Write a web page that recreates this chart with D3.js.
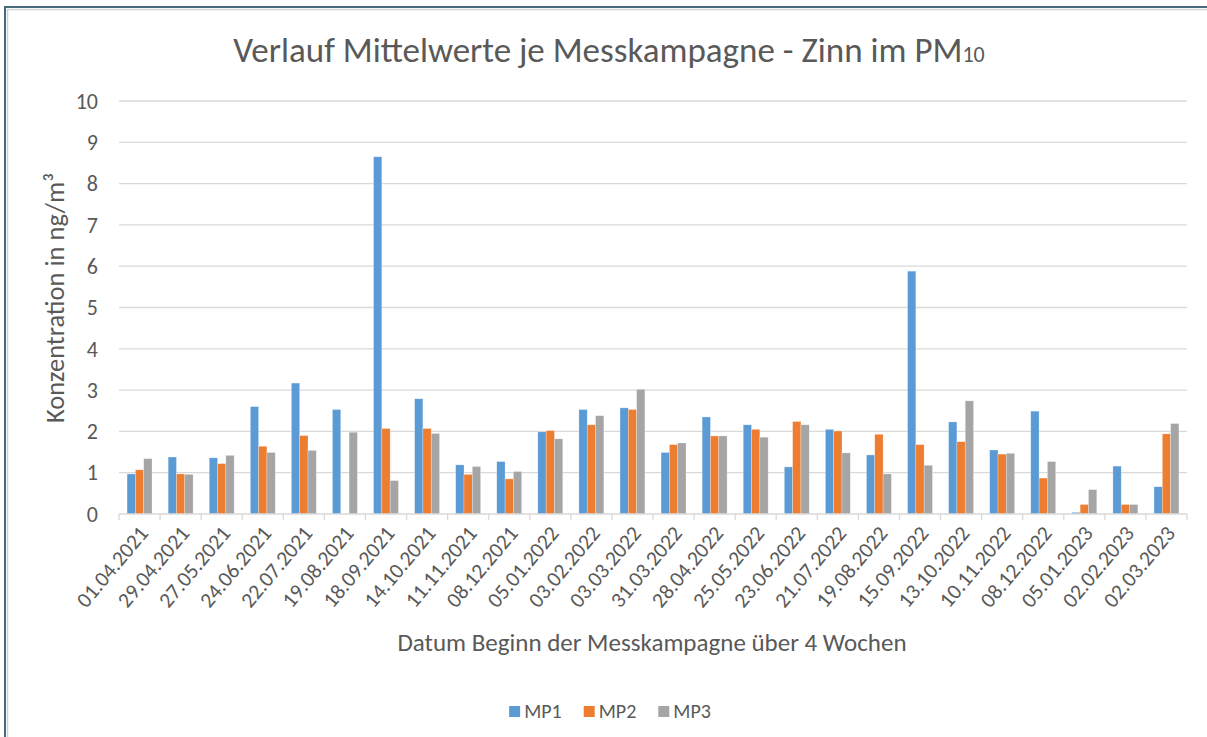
<!DOCTYPE html>
<html>
<head>
<meta charset="utf-8">
<script src="https://cdn.jsdelivr.net/npm/d3@7"></script>
<style>
  body { margin: 0; background: #fff; }
  svg text { font-family: Calibri, Carlito, "Open Sans", sans-serif; fill: #595959; }
</style>
</head>
<body>
<div id="chart"></div>
<script>
"use strict";

// campaign start dates
const dates = ["01.04.2021", "29.04.2021", "27.05.2021", "24.06.2021", "22.07.2021", "19.08.2021",
    "18.09.2021", "14.10.2021", "11.11.2021", "08.12.2021", "05.01.2022", "03.02.2022", "03.03.2022",
    "31.03.2022", "28.04.2022", "25.05.2022", "23.06.2022", "21.07.2022", "19.08.2022", "15.09.2022",
    "13.10.2022", "10.11.2022", "08.12.2022", "05.01.2023", "02.02.2023", "02.03.2023"];

const seriesNames = ["MP1", "MP2", "MP3"];

// values in ng/m3
const mp1 = [0.97, 1.38, 1.36, 2.60, 3.17, 2.53, 8.65, 2.79, 1.19, 1.27, 1.99, 2.53, 2.57,
    1.49, 2.35, 2.16, 1.14, 2.05, 1.43, 5.88, 2.23, 1.55, 2.49, 0.04, 1.16, 0.66];
const mp2 = [1.07, 0.97, 1.22, 1.64, 1.90, 0, 2.07, 2.07, 0.96, 0.85, 2.02, 2.16, 2.53,
    1.68, 1.89, 2.05, 2.24, 2.01, 1.93, 1.68, 1.75, 1.45, 0.87, 0.23, 0.23, 1.94];
const mp3 = [1.34, 0.96, 1.42, 1.49, 1.54, 1.98, 0.81, 1.95, 1.15, 1.03, 1.82, 2.38, 3.02,
    1.72, 1.89, 1.86, 2.16, 1.48, 0.97, 1.18, 2.74, 1.47, 1.27, 0.59, 0.23, 2.19];

const yTicks = [0, 1, 2, 3, 4, 5, 6, 7, 8, 9, 10];

const colors = ["#5b9bd5", "#ed7d31", "#a5a5a5"];

let W = 1207, H = 737;
let plot = { left: 119, right: 1187, top: 101, bottom: 514 };

let svg = d3.select("#chart")
    .append("svg")
    .attr("width", W)
    .attr("height", H);

// frame of the embedded chart
svg.append("line").attr("x1", 5).attr("x2", W).attr("y1", 7).attr("y2", 7)
    .attr("stroke", "#4a6b7c").attr("stroke-width", 2);
svg.append("line").attr("x1", 7).attr("x2", W).attr("y1", 9.5).attr("y2", 9.5)
    .attr("stroke", "#d0d6da").attr("stroke-width", 1.5);
svg.append("line").attr("x1", 5).attr("x2", 5).attr("y1", 6).attr("y2", H)
    .attr("stroke", "#4a6b7c").attr("stroke-width", 2);
svg.append("line").attr("x1", 7.5).attr("x2", 7.5).attr("y1", 9).attr("y2", H)
    .attr("stroke", "#c9d2d7").attr("stroke-width", 1.5);

let x0 = d3.scaleBand()
    .domain(dates)
    .range([plot.left, plot.right])
    .padding(0);

let x1 = d3.scaleBand()
    .domain(seriesNames)
    .range([0, x0.bandwidth()])
    .paddingInner(0)
    .paddingOuter(0.97);

let y = d3.scaleLinear()
    .domain([0, 10])
    .range([plot.bottom, plot.top]);

// Gridlines
svg.append("g")
    .selectAll("line")
    .data(yTicks.filter(d => d > 0))
    .enter().append("line")
    .attr("x1", plot.left)
    .attr("x2", plot.right)
    .attr("y1", d => y(d))
    .attr("y2", d => y(d))
    .attr("stroke", "#d9d9d9")
    .attr("stroke-width", 1.3);

// Y tick labels
svg.append("g")
    .selectAll("text")
    .data(yTicks)
    .enter().append("text")
    .attr("x", 98)
    .attr("y", d => y(d))
    .attr("dy", "0.35em")
    .attr("text-anchor", "end")
    .style("font-size", "22px")
    .text(d => d);

// Bars
let table = dates.map((d, i) => ({ date: d, values: [mp1[i], mp2[i], mp3[i]] }));

let groups = svg.append("g")
    .selectAll("g")
    .data(table)
    .enter().append("g")
    .attr("transform", d => "translate(" + x0(d.date) + ",0)");

groups.selectAll("rect")
    .data(d => d.values.map((v, k) => ({ name: seriesNames[k], value: v, k: k })))
    .enter().append("rect")
    .attr("x", d => x1(d.name))
    .attr("y", d => y(d.value))
    .attr("width", x1.bandwidth())
    .attr("height", d => plot.bottom - y(d.value))
    .attr("fill", d => colors[d.k])
    .attr("stroke", "#ffffff")
    .attr("stroke-opacity", 0.45)
    .attr("stroke-width", 0.6);

// X axis line and ticks
let xAxis = svg.append("g");
xAxis.append("line")
    .attr("x1", plot.left).attr("x2", plot.right)
    .attr("y1", plot.bottom).attr("y2", plot.bottom)
    .attr("stroke", "#d9d9d9").attr("stroke-width", 1.3);
xAxis.selectAll(".tick")
    .data(dates.concat(["end"]))
    .enter().append("line")
    .attr("class", "tick")
    .attr("x1", (d, i) => plot.left + i * x0.step())
    .attr("x2", (d, i) => plot.left + i * x0.step())
    .attr("y1", plot.bottom)
    .attr("y2", plot.bottom + 6)
    .attr("stroke", "#d9d9d9").attr("stroke-width", 1.3);

// X tick labels, rotated
xAxis.selectAll(".lbl")
    .data(dates)
    .enter().append("text")
    .attr("class", "lbl")
    .attr("transform", d => "translate(" + (x0(d) + x0.bandwidth() / 2 + 4) + "," + (plot.bottom + 15) + ") rotate(-50)")
    .attr("text-anchor", "end")
    .attr("dy", "0.35em")
    .style("font-size", "21.5px")
    .text(d => d);

// Title
let title = svg.append("text")
    .attr("x", 609)
    .attr("y", 62)
    .attr("text-anchor", "middle")
    .style("font-size", "35px");
title.append("tspan").text("Verlauf Mittelwerte je Messkampagne - Zinn im PM");
title.append("tspan").style("font-size", "22px").text("10");

// Axis titles
svg.append("text")
    .attr("x", 652)
    .attr("y", 651)
    .attr("text-anchor", "middle")
    .style("font-size", "25px")
    .text("Datum Beginn der Messkampagne über 4 Wochen");

svg.append("text")
    .attr("transform", "translate(64,298) rotate(-90)")
    .attr("text-anchor", "middle")
    .style("font-size", "26.5px")
    .text("Konzentration in ng/m³");

// Legend
let legend = svg.append("g");
let items = legend.selectAll("g")
    .data(seriesNames)
    .enter().append("g");
items.append("rect")
    .attr("width", 11).attr("height", 11)
    .attr("y", -12)
    .attr("fill", (d, i) => colors[i]);
items.append("text")
    .attr("x", 15)
    .attr("y", 0)
    .style("font-size", "20px")
    .text(d => d);

let gap = 22;
let offs = 0, pos = [];
items.each(function () {
    pos.push(offs);
    offs += 15 + this.querySelector("text").getComputedTextLength() + gap;
});
let totalW = offs - gap;
items.attr("transform", (d, i) => "translate(" + (610 - totalW / 2 + pos[i]) + ",718)");
</script>
</body>
</html>
